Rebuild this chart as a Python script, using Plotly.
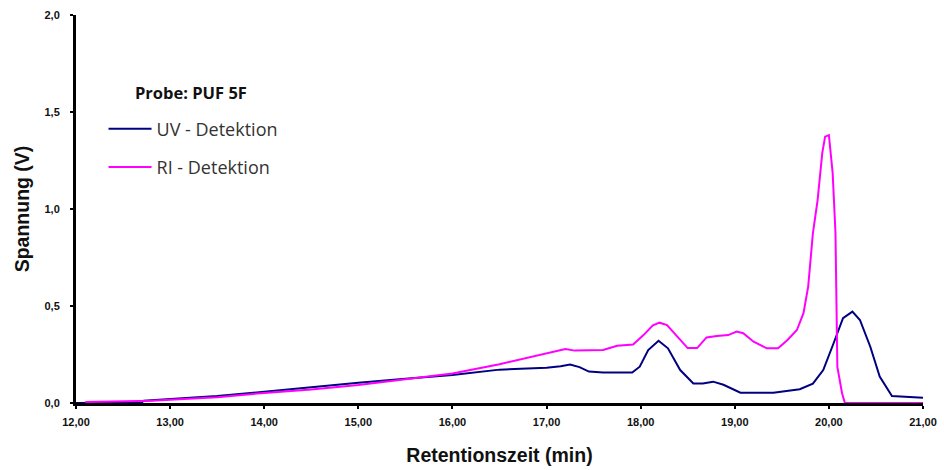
import plotly.graph_objects as go

# Retention time (min) and detector voltage (V) for sample PUF 5F
uv_time = [12.0, 12.7, 12.72, 13.0, 13.5, 14.0, 14.5, 15.0, 15.5, 16.0, 16.5, 17.0,
           17.15, 17.25, 17.35, 17.45, 17.6, 17.91, 17.99, 18.08, 18.19, 18.29, 18.42,
           18.56, 18.66, 18.77, 18.88, 19.06, 19.41, 19.69, 19.83, 19.94, 20.05, 20.15,
           20.25, 20.33, 20.44, 20.54, 20.67, 21.0]
uv_volt = [0.0, 0.003, 0.012, 0.02, 0.036, 0.058, 0.083, 0.105, 0.125, 0.144, 0.172, 0.182,
           0.19, 0.198, 0.185, 0.162, 0.157, 0.157, 0.187, 0.273, 0.321, 0.282, 0.17,
           0.101, 0.1, 0.11, 0.094, 0.053, 0.053, 0.071, 0.1, 0.17, 0.308, 0.437,
           0.471, 0.428, 0.29, 0.136, 0.036, 0.027]

ri_time = [12.1, 12.5, 12.8, 13.0, 13.5, 14.0, 14.5, 15.0, 15.5, 16.0, 16.5, 17.0, 17.2,
           17.3, 17.6, 17.75, 17.92, 18.03, 18.13, 18.2, 18.28, 18.39, 18.5, 18.6, 18.7,
           18.81, 18.93, 19.02, 19.09, 19.2, 19.34, 19.46, 19.56, 19.66, 19.73, 19.78,
           19.83, 19.88, 19.93, 19.96, 20.0, 20.04, 20.07, 20.09, 20.14, 20.17, 21.0]
ri_volt = [0.005, 0.007, 0.012, 0.017, 0.03, 0.052, 0.07, 0.093, 0.122, 0.152, 0.2, 0.255, 0.278,
           0.27, 0.273, 0.295, 0.302, 0.35, 0.4, 0.414, 0.402, 0.342, 0.283, 0.283, 0.338,
           0.345, 0.35, 0.368, 0.36, 0.316, 0.282, 0.282, 0.325, 0.376, 0.463, 0.6,
           0.875, 1.046, 1.29, 1.373, 1.381, 1.186, 0.876, 0.186, 0.05, 0.0, 0.0]

x_ticks = [12, 13, 14, 15, 16, 17, 18, 19, 20, 21]
y_ticks = [0.0, 0.5, 1.0, 1.5, 2.0]

fig = go.Figure()
fig.add_trace(go.Scatter(x=uv_time, y=uv_volt, mode="lines", name="UV - Detektion",
                         legendgroup="uv", line=dict(color="#000080", width=2)))
fig.add_trace(go.Scatter(x=ri_time, y=ri_volt, mode="lines", name="RI - Detektion",
                         legendgroup="ri", line=dict(color="#FF00FF", width=2)))

tick_font = dict(family="Liberation Sans, Arial", size=11, color="#111111", weight="bold")
title_font = dict(family="Liberation Sans, Arial", size=19.5, color="#111111")

fig.update_layout(
    width=944, height=470,
    margin=dict(l=76, r=21, t=15, b=67),
    paper_bgcolor="white", plot_bgcolor="white",
    separators=",.",
    showlegend=True,
    legend=dict(
        x=0.0325, y=0.754, xanchor="left", yanchor="top",
        bgcolor="rgba(0,0,0,0)", itemwidth=43,
        font=dict(family="Open Sans", size=18, color="#333333"),
        traceorder="grouped", tracegroupgap=12,
    ),
    annotations=[dict(
        text="<b>Probe: PUF 5F</b>", xref="paper", yref="paper",
        x=0.136, y=0.799, xanchor="center", yanchor="middle", showarrow=False,
        font=dict(family="Open Sans", size=16.5, color="#111111"),
    )],
    xaxis=dict(
        range=[12, 21], tickvals=x_ticks, tickformat=".2f",
        showgrid=False, zeroline=False, automargin=False,
        showline=True, linecolor="black", linewidth=3,
        ticks="outside", ticklen=3, tickwidth=2, tickcolor="black",
        tickfont=tick_font, ticklabelstandoff=4,
        title=dict(text="<b>Retentionszeit (min)</b>", font=title_font, standoff=22),
    ),
    yaxis=dict(
        range=[0, 2], tickvals=y_ticks, tickformat=".1f",
        showgrid=False, zeroline=False, automargin=False,
        showline=True, linecolor="black", linewidth=3,
        ticks="outside", ticklen=3, tickwidth=2, tickcolor="black",
        tickfont=tick_font, ticklabelstandoff=8,
        title=dict(text="<b>Spannung (V)</b>", font=title_font, standoff=10),
    ),
)

fig.write_html("out.html")
